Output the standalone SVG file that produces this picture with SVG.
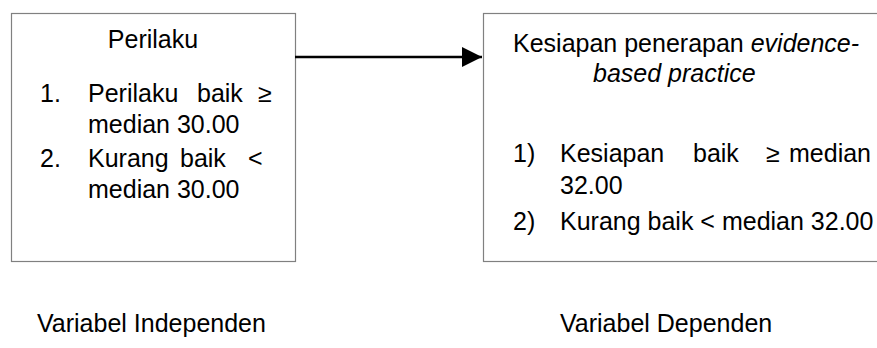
<svg xmlns="http://www.w3.org/2000/svg" width="877" height="348" viewBox="0 0 877 348">
<defs>
<style>
.box{fill:#fff;stroke:#808080;stroke-width:1.2}
text{font-family:"Liberation Sans",Arial,sans-serif;font-size:25px;fill:#000}
.it{font-style:italic}
.conn{stroke:#000;stroke-width:2.5;fill:none}
</style>
<marker id="ah" markerWidth="8" markerHeight="8" refX="8" refY="4" orient="auto" markerUnits="strokeWidth"><path d="M0,0 L8,4 L0,8 Z" fill="#000"/></marker>
</defs>
<rect width="877" height="348" fill="#fff"/>
<g id="node-perilaku">
<rect class="box" x="11.5" y="13.5" width="284" height="248"/>
<text x="153" y="48" text-anchor="middle">Perilaku</text>
<text x="40" y="102">1.</text>
<text x="88" y="102">Perilaku</text>
<text x="197" y="102">baik</text>
<text x="258" y="102">≥</text>
<text x="88" y="133">median 30.00</text>
<text x="40" y="167">2.</text>
<text x="88" y="167">Kurang</text>
<text x="180" y="167">baik</text>
<text x="248" y="167">&lt;</text>
<text x="88" y="198">median 30.00</text>
</g>
<g id="node-kesiapan">
<rect class="box" x="483.5" y="13.5" width="400" height="248"/>
<text x="513" y="52">Kesiapan penerapan <tspan class="it">evidence-</tspan></text>
<text x="593" y="82" class="it">based practice</text>
<text x="513" y="162">1)</text>
<text x="560" y="162">Kesiapan</text>
<text x="693" y="162">baik</text>
<text x="766" y="162">≥</text>
<text x="789" y="162">median</text>
<text x="560" y="194">32.00</text>
<text x="513" y="230">2)</text>
<text x="560" y="230">Kurang baik &lt; median 32.00</text>
</g>
<g id="connectors">
<line class="conn" x1="295" y1="57" x2="482" y2="57" marker-end="url(#ah)"/>
</g>
<g id="labels">
<text x="37" y="332">Variabel Independen</text>
<text x="560" y="332">Variabel Dependen</text>
</g>
</svg>
